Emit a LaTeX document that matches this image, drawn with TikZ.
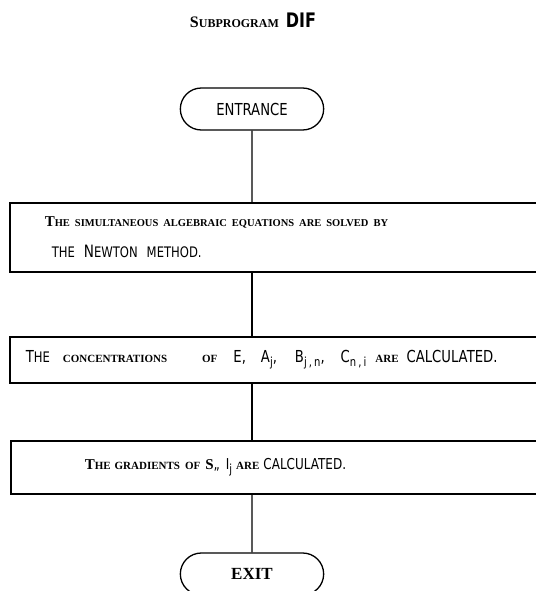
\documentclass[tikz,border=0pt]{standalone}
\usepackage{fontspec}
\setmainfont{Liberation Serif}
\setsansfont{DejaVu Sans}[FakeStretch=0.8]
\usetikzlibrary{shapes.misc}

% bold serif, big first letter and small rest
\newcommand{\bsc}[2]{{\rmfamily\bfseries #1{\fontsize{11}{12}\selectfont #2}}}
% sans, small letters
\newcommand{\ssm}[1]{{\fontsize{14.5}{12}\selectfont #1}}
% typewriter subscript, spaced out
\newcommand{\tsub}[1]{\raisebox{-4pt}{\fontsize{12.5}{12}\selectfont #1}}
\newcommand{\gap}[1]{\hspace{#1pt}}

\begin{document}
\begin{tikzpicture}[
    x=1pt, y=-1pt, % picture in pixels of the reference
    every node/.style={font=\sffamily\fontsize{15}{18}\selectfont}, % typewriter-like text
    term/.style={draw, line width=1.3pt, rounded rectangle, minimum width=150pt, minimum height=42pt}, % entrance / exit
    stepbox/.style={draw, line width=1.5pt, rectangle, anchor=west, inner xsep=0pt, text width=560pt, align=left}, % process boxes
    flow/.style={line width=1.3pt} % connectors
]

    \useasboundingbox (0,0) rectangle (535,591);

    % Title
    \node (title) at (253,20) {{\rmfamily\bfseries\fontsize{16}{18}\selectfont S\fontsize{12}{12}\selectfont UBPROGRAM}\gap{7}{\bfseries\fontsize{20}{18}\selectfont DIF}};

    % Entrance
    \node[term] (entrance) at (252,109) {\fontsize{16.5}{18}\selectfont ENTRANCE};

    % Process boxes (they run past the right edge)
    \node[stepbox, minimum height=69pt] (solve) at (9,237.5)
        {\hspace*{35pt}{\rmfamily\bfseries T\fontsize{10.5}{12}\selectfont HE SIMULTANEOUS ALGEBRAIC EQUATIONS ARE SOLVED BY}\\[13pt]
         \hspace*{42pt}\ssm{THE\gap{4} }{\fontsize{17}{18}\selectfont N}\ssm{EWTON\gap{4} METHOD.}};
    \node[stepbox, minimum height=46pt, font=\sffamily\fontsize{16.5}{18}\selectfont] (conc) at (9,360)
        {\hspace*{16pt}T\ssm{HE}\gap{13}\bsc{}{CONCENTRATIONS\gap{35}OF}\gap{16}E,\gap{15}A\tsub{j},\gap{18}B\tsub{j\,,\,n},\gap{16}C\tsub{n\,,\,i}\gap{9}\bsc{}{ARE}\gap{8}CALCULATED.};
    \node[stepbox, minimum height=53pt] (grad) at (10,467.5)
        {\hspace*{74pt}\bsc{T}{HE\gap{4}GRADIENTS\gap{5}OF}\gap{5}\textbf{\rmfamily S},,\gap{6}I\tsub{j}\gap{4}\bsc{}{ARE}\gap{4}CALCULATED.};

    % Exit
    \node[term] (exit) at (252,574) {\rmfamily\bfseries\fontsize{17}{18}\selectfont EXIT};

    % Connectors
    \draw[flow] (entrance) -- (entrance |- solve.north);
    \draw[flow] (entrance |- solve.south) -- (entrance |- conc.north);
    \draw[flow] (entrance |- conc.south) -- (entrance |- grad.north);
    \draw[flow] (entrance |- grad.south) -- (exit);

\end{tikzpicture}
\end{document}
